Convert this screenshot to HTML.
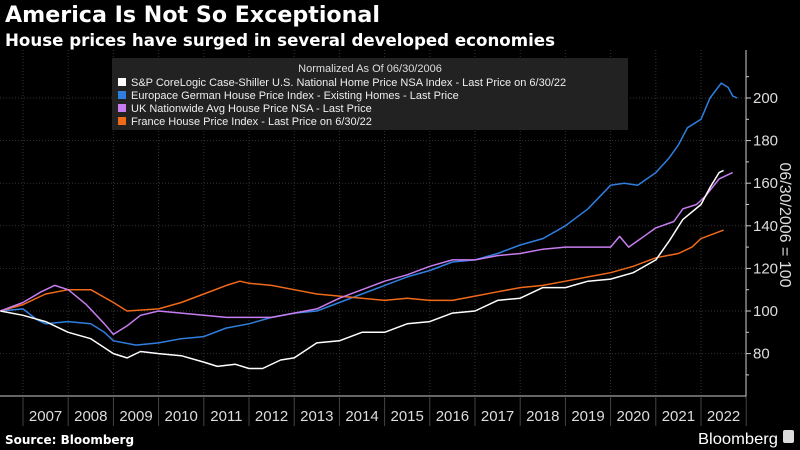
<!DOCTYPE html>
<html><head><meta charset="utf-8"><style>
body{margin:0;background:#000;width:800px;height:450px;overflow:hidden;font-family:"Liberation Sans",sans-serif;color:#fff}
</style></head><body>
<svg id="s" width="800" height="450" xmlns="http://www.w3.org/2000/svg" style="position:absolute;left:0;top:0">
<text x="5" y="22" font-size="22.5" font-weight="bold" fill="#fff" font-family="DejaVu Sans, sans-serif" textLength="375" lengthAdjust="spacingAndGlyphs">America Is Not So Exceptional</text>
<text x="5" y="46" font-size="16.5" font-weight="bold" fill="#fff" font-family="DejaVu Sans, sans-serif" textLength="550" lengthAdjust="spacingAndGlyphs">House prices have surged in several developed economies</text>
<g id="grid"></g>
<rect x="112" y="58" width="516" height="72" fill="#222"/>
<text x="370" y="72" font-size="11" fill="#ddd" text-anchor="middle">Normalized As Of 06/30/2006</text>
<g font-size="11" fill="#eee">
<rect x="118" y="78" width="8" height="8" fill="#fff"/><text x="131" y="86">S&amp;P CoreLogic Case-Shiller U.S. National Home Price NSA Index - Last Price on 6/30/22</text>
<rect x="118" y="91" width="8" height="8" fill="#2f7fe0"/><text x="131" y="99">Europace German House Price Index - Existing Homes - Last Price</text>
<rect x="118" y="104" width="8" height="8" fill="#c77df0"/><text x="131" y="112">UK Nationwide Avg House Price NSA - Last Price</text>
<rect x="118" y="117" width="8" height="8" fill="#f06a1a"/><text x="131" y="125">France House Price Index - Last Price on 6/30/22</text>
</g>
<g id="lines"></g>
<line x1="746" y1="50" x2="746" y2="398" stroke="#ccc" stroke-width="1"/>
<line x1="0" y1="396" x2="746" y2="396" stroke="#ccc" stroke-width="1"/>
<g id="ax" font-size="15" fill="#ddd"></g>
<text x="780" y="225" font-size="16" fill="#ddd" text-anchor="middle" transform="rotate(90 780 225)">06/30/2006 = 100</text>
<text x="5" y="444" font-size="12" font-weight="bold" fill="#fff" font-family="DejaVu Sans, sans-serif">Source: Bloomberg</text>
<text x="698" y="444" font-size="16" fill="#fff" font-family="Liberation Sans Narrow, Liberation Sans, sans-serif" textLength="80" lengthAdjust="spacingAndGlyphs">Bloomberg</text>
<rect x="783" y="430" width="11" height="13" rx="2" fill="#ddd"/>
</svg>
<script>
const X=t=>23+(t-2007)*45.2, Y=v=>311-(v-100)*2.13;
const ns="http://www.w3.org/2000/svg";
function el(p,tag,a,txt){const e=document.createElementNS(ns,tag);for(const k in a)e.setAttribute(k,a[k]);if(txt)e.textContent=txt;document.getElementById(p).appendChild(e);}
for(let v=80;v<=200;v+=20){el("grid","line",{x1:0,x2:746,y1:Y(v),y2:Y(v),stroke:"#333","stroke-dasharray":"1,2"});
el("ax","line",{x1:746,x2:751,y1:Y(v),y2:Y(v),stroke:"#ccc"});el("ax","text",{x:753,y:Y(v)+5},String(v));}
for(let v=70;v<=210;v+=20){el("ax","line",{x1:746,x2:749,y1:Y(v),y2:Y(v),stroke:"#ccc"});}
for(let y=2007;y<=2023;y++){const x=X(y);el("grid","line",{x1:x,x2:x,y1:50,y2:396,stroke:"#333","stroke-dasharray":"1,2"});
el("ax","line",{x1:x,x2:x,y1:396,y2:426,stroke:"#444"});
if(y<2023)el("ax","text",{x:x+22.6,y:421,"text-anchor":"middle"},String(y));}
const S={
"#2f7fe0":[2006.5,100,2007,101,2007.3,96,2007.5,94,2008,95,2008.5,94,2008.8,90,2009,86,2009.5,84,2010,85,2010.5,87,2011,88,2011.5,92,2012,94,2012.5,97,2013,99,2013.5,100,2014,104,2014.5,108,2015,112,2015.5,116,2016,119,2016.5,123,2017,124,2017.5,127,2018,131,2018.5,134,2019,140,2019.5,148,2020,159,2020.3,160,2020.6,159,2021,165,2021.3,172,2021.5,178,2021.7,186,2022,190,2022.2,200,2022.45,207,2022.6,205,2022.7,201,2022.8,200],
"#f06a1a":[2006.5,100,2007,103,2007.5,108,2008,110,2008.5,110,2009,104,2009.3,100,2010,101,2010.5,104,2011,108,2011.5,112,2011.8,114,2012,113,2012.5,112,2013,110,2013.5,108,2014,107,2014.5,106,2015,105,2015.5,106,2016,105,2016.5,105,2017,107,2017.5,109,2018,111,2018.5,112,2019,114,2019.5,116,2020,118,2020.5,121,2021,125,2021.5,127,2021.8,130,2022,134,2022.5,138],
"#c77df0":[2006.5,100,2007,104,2007.4,109,2007.7,112,2008,110,2008.4,103,2008.8,94,2009,89,2009.3,93,2009.6,98,2010,100,2010.5,99,2011,98,2011.5,97,2012,97,2012.5,97,2013,99,2013.5,101,2014,106,2014.5,110,2015,114,2015.5,117,2016,121,2016.5,124,2017,124,2017.5,126,2018,127,2018.5,129,2019,130,2019.5,130,2020,130,2020.2,135,2020.4,130,2020.8,136,2021,139,2021.4,142,2021.6,148,2021.9,150,2022.1,154,2022.4,162,2022.7,165],
"#fff":[2006.5,100,2007,98,2007.5,95,2008,90,2008.5,87,2009,80,2009.3,78,2009.6,81,2010,80,2010.5,79,2011,76,2011.3,74,2011.7,75,2012,73,2012.3,73,2012.7,77,2013,78,2013.5,85,2014,86,2014.5,90,2015,90,2015.5,94,2016,95,2016.5,99,2017,100,2017.5,105,2018,106,2018.5,111,2019,111,2019.5,114,2020,115,2020.5,118,2021,124,2021.3,133,2021.6,143,2022,150,2022.2,158,2022.4,165,2022.5,166]};
for(const c in S){const a=S[c];let p=[];for(let i=0;i<a.length;i+=2)p.push(X(a[i]).toFixed(1)+","+Y(a[i+1]).toFixed(1));
el("lines","polyline",{points:p.join(" "),fill:"none",stroke:c,"stroke-width":1.5,"stroke-linejoin":"round"});}
</script>
</body></html>
